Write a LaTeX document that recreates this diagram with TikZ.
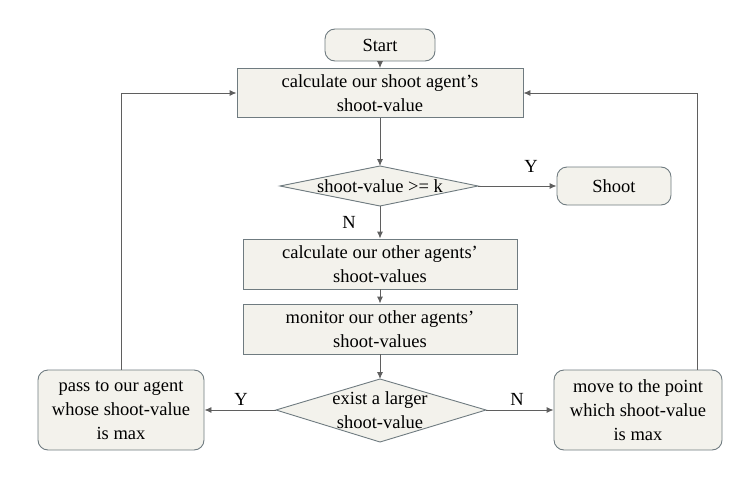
\documentclass[tikz,border=0pt]{standalone}
\usepackage{fontspec}
\setmainfont{Liberation Serif}
\usetikzlibrary{shapes.geometric,arrows.meta}
\definecolor{boxfill}{HTML}{F3F2EC}
\definecolor{boxline}{HTML}{6F7B80}
\definecolor{arr}{HTML}{5F5F5F}
\newcommand{\apos}{{\char"27}}
\begin{document}
\begin{tikzpicture}[x=1pt,y=-1pt,
  every node/.style={font=\fontsize{18.5}{24}\selectfont,align=center,inner sep=0pt},
  proc/.style={draw=boxline,fill=boxfill,line width=0.9pt},
  term/.style={draw=boxline,fill=boxfill,rounded corners=10pt,line width=0.9pt},
  dec/.style={draw=boxline,fill=boxfill,line width=0.9pt},
  lbl/.style={font=\fontsize{18.5}{24}\selectfont},
  link/.style={draw=arr,line width=0.9pt,-{Latex[length=7pt,width=6pt]}}]
\useasboundingbox (0,0) rectangle (743,492);
\node[term,minimum width=110pt,minimum height=32pt] (start) at (380,45) {Start};
\node[proc,minimum width=286pt,minimum height=49pt] (calc) at (380,93) {calculate our shoot agent\apos s\\shoot-value};
\draw[dec] (280,186) -- (380,166) -- (478,186) -- (380,206) -- cycle;
\node (d1) at (380,186) {shoot-value >= k};
\coordinate (d1n) at (380,166); \coordinate (d1s) at (380,206); \coordinate (d1e) at (478,186);
\node[term,minimum width=114pt,minimum height=38pt] (shoot) at (614,186) {Shoot};
\node[proc,minimum width=274pt,minimum height=50pt] (other) at (380,264) {calculate our other agents\apos\\shoot-values};
\node[proc,minimum width=274pt,minimum height=50pt] (mon) at (380,329) {monitor our other agents\apos\\shoot-values};
\draw[dec] (276,410) -- (380,379) -- (486,410) -- (380,442) -- cycle;
\node (d2) at (380,410) {exist a larger\\shoot-value};
\coordinate (d2n) at (380,379); \coordinate (d2w) at (276,410); \coordinate (d2e) at (486,410);
\node[term,minimum width=166pt,minimum height=80pt] (left) at (121,410) {pass to our agent\\whose shoot-value\\is max};
\node[term,minimum width=168pt,minimum height=80pt] (right) at (638,410) {move to the point\\which shoot-value\\is max};
\node[lbl] (y1) at (531,166) {Y};
\node[lbl] (n1) at (349,222) {N};
\node[lbl] (y2) at (241,399) {Y};
\node[lbl] (n2) at (517,399) {N};
\coordinate (lt) at (121,93);
\coordinate (rt) at (697,93);
\draw[link] (start) -- (calc);
\draw[link] (calc) -- (d1n);
\draw[link] (d1s) -- (other);
\draw[link] (d1e) -- (shoot);
\draw[link] (other) -- (mon);
\draw[link] (mon) -- (d2n);
\draw[link] (d2w) -- (left);
\draw[link] (d2e) -- (right);
\draw[link] (left.north -| lt) -- (lt) -- (calc);
\draw[link] (right.north -| rt) -- (rt) -- (calc);
\end{tikzpicture}
\end{document}
